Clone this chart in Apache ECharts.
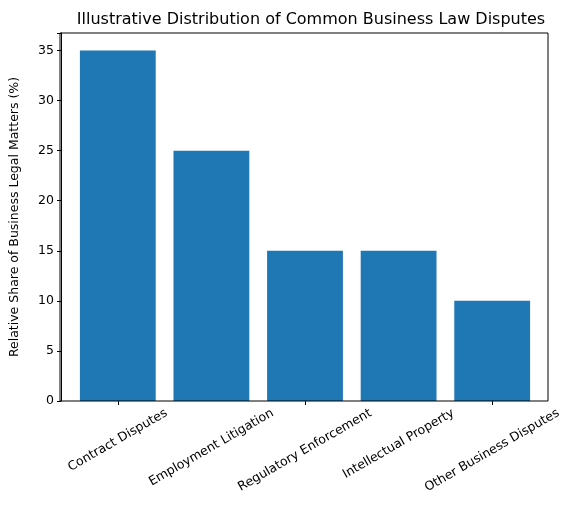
<!DOCTYPE html>
<html><head><meta charset="utf-8">
<script src="https://cdn.jsdelivr.net/npm/echarts@6/dist/echarts.min.js"></script>
<style>html,body{margin:0;padding:0;background:#fff}#c{width:579px;height:518px}</style>
</head><body><div id="c"></div>
<script>
const categories = ["Contract Disputes","Employment Litigation","Regulatory Enforcement","Intellectual Property","Other Business Disputes"];
const shares = [35,25,15,15,10];
const yTicks = [0,5,10,15,20,25,30,35];
const F = "DejaVu Sans";
const FS = 12.5;
const chart = echarts.init(document.getElementById('c'));
chart.setOption({
  animation:false,
  title:{text:"Illustrative Distribution of Common Business Law Disputes",left:306,top:7,textAlign:'center',
    textStyle:{fontFamily:F,fontSize:16,fontWeight:'normal',color:'#000'}},
  grid:{left:70,right:40,top:33,bottom:117},
  xAxis:{type:'category',data:categories,
    axisLine:{show:false},axisTick:{show:true,alignWithLabel:true,length:4,lineStyle:{color:'#000'}},
    axisLabel:{show:false}},
  yAxis:{type:'value',min:0,max:36.75,interval:5,offset:10,
    name:"Relative Share of Business Legal Matters (%)",nameLocation:'middle',nameGap:40,
    nameTextStyle:{fontFamily:F,fontSize:FS,color:'#000'},
    axisLine:{show:true,lineStyle:{color:'#000'}},axisTick:{show:true,length:4,lineStyle:{color:'#000'}},
    splitLine:{show:false},
    axisLabel:{fontFamily:F,fontSize:FS,color:'#000',margin:7,
      formatter:v=>yTicks.includes(v)?String(v):''}},
  series:[{type:'bar',data:shares,barWidth:'81%',itemStyle:{color:'#1f77b4'}}]
});
const ctx = document.createElement('canvas').getContext('2d');
ctx.font = FS + 'px "' + F + '"';
const h = FS * 1.15;
const g = [{type:'rect',shape:{x:60,y:33,width:488,height:368},style:{fill:'none',stroke:'#000',lineWidth:1},silent:true,z:10}];
categories.forEach(c => {
  const x = chart.convertToPixel({xAxisIndex:0}, c);
  const w = ctx.measureText(c).width;
  const cy = 406 + (w*0.5 + h*0.866)/2;
  g.push({type:'text',x:x,y:cy,rotation:Math.PI/6,
    style:{text:c,font:FS+'px "'+F+'"',fill:'#000',align:'center',verticalAlign:'middle'}});
});
chart.setOption({graphic:g});
</script></body></html>
